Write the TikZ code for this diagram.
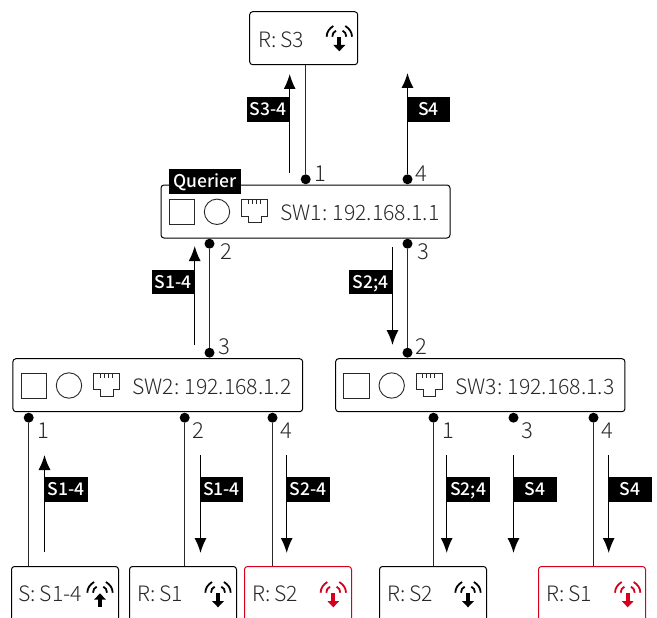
\documentclass[tikz,border=0pt]{standalone}
\usepackage{fontspec}
\setmainfont{Noto Sans CJK JP Light}[BoldFont={Noto Sans CJK JP Medium},WordSpace=0.85]
\usetikzlibrary{arrows.meta}
\definecolor{alarm}{RGB}{214,0,28}
\definecolor{ink}{RGB}{40,40,40}
\tikzset{
  box/.style={draw=black, line width=1pt, rounded corners=3pt, minimum width=#1, minimum height=53pt, inner sep=0pt},
  box/.default=108pt,
  leaf/.style={draw=black, line width=1pt, rounded corners=3pt, anchor=north west, minimum width=107pt, minimum height=70pt, inner sep=0pt},
  dot/.style={circle, fill=black, inner sep=0pt, minimum size=10pt},
  num/.style={font=\fontsize{22}{22}\selectfont, text=ink, inner sep=0pt},
  txt/.style={font=\fontsize{21.2}{21.2}\selectfont, text=ink, inner sep=0pt, anchor=west},
  tag/.style={fill=black, text=white, font=\bfseries\fontsize{17.5}{17.5}\selectfont, text height=14pt, text depth=1.5pt, minimum width=43pt, minimum height=24.5pt, inner sep=0pt},
  wire/.style={draw=ink, line width=1.2pt},
  flow/.style={draw=black, line width=1.2pt, -{Latex[length=15pt,width=12pt]}},
}
\newcommand{\swicons}[2]{
    \draw[ink, line width=0.9pt] (#1,#2+0.3) rectangle (#1+25.3,#2+25.3);
    \draw[ink, line width=0.9pt] (#1+48,#2+12.8) circle (12.7);
    \draw[ink, line width=0.9pt] (#1+72.7,#2+0.7) -- (#1+98.7,#2+0.7) -- (#1+98.7,#2+17) -- (#1+92,#2+17) -- (#1+92,#2+23.7) -- (#1+79.5,#2+23.7) -- (#1+79.5,#2+17) -- (#1+72.7,#2+17) -- cycle;
    \draw[ink, line width=0.9pt] (#1+79,#2+1) -- (#1+79,#2+5) (#1+83,#2+1) -- (#1+83,#2+5) (#1+87,#2+1) -- (#1+87,#2+5) (#1+91,#2+1) -- (#1+91,#2+5);
}
\newcommand{\wifiarcs}[3]{
    \draw[#3, line width=1.8pt] (#1-12.7,#2) .. controls (#1-12.5,#2-5) and (#1-10,#2-8) .. (#1-6,#2-10.7);
    \draw[#3, line width=1.8pt] (#1-7,#2) .. controls (#1-7,#2-3) and (#1-5.5,#2-5) .. (#1-3.3,#2-6);
    \draw[#3, line width=1.8pt] (#1+12.7,#2) .. controls (#1+12.5,#2-5) and (#1+10,#2-8) .. (#1+6,#2-10.7);
    \draw[#3, line width=1.8pt] (#1+7,#2) .. controls (#1+7,#2-3) and (#1+5.5,#2-5) .. (#1+3.3,#2-6);
}
\newcommand{\wifidown}[3]{
    \wifiarcs{#1}{#2}{#3}
    \fill[#3] (#1-2,#2+0.6) rectangle (#1+2,#2+9);
    \fill[#3] (#1-6,#2+8.3) -- (#1+6,#2+8.3) -- (#1,#2+14.6) -- cycle;
}
\newcommand{\wifiup}[3]{
    \wifiarcs{#1}{#2}{#3}
    \fill[#3] (#1-2,#2+6) rectangle (#1+2,#2+14);
    \fill[#3] (#1-6,#2+7) -- (#1+6,#2+7) -- (#1,#2+0.6) -- cycle;
}
\begin{document}
\begin{tikzpicture}[x=1pt, y=-1pt]
    \useasboundingbox (0,0) rectangle (657,618);
    \clip (0,0) rectangle (657,618);
    \node[box=108pt] (rs3) at (303.7,38.2) {};
    \node[box=289pt] (sw1) at (305.5,211.5) {};
    \node[box=289.7pt] (sw2) at (157.8,385.2) {};
    \node[box=289.3pt] (sw3) at (480.3,385.2) {};
    \node[leaf] (src) at (11,566) {};
    \node[leaf] (rs1) at (129,566) {};
    \node[leaf, draw=alarm] (rs2) at (244,566) {};
    \node[leaf] (rs2b) at (379,566) {};
    \node[leaf, draw=alarm] (rs1b) at (538,566) {};
    \node[txt] (rs3txt) at (258,40) {R: S3};
    \node[txt] (sw1txt) at (280,213) {SW1: 192.168.1.1};
    \node[txt] (sw2txt) at (132,387) {SW2: 192.168.1.2};
    \node[txt] (sw3txt) at (455,387) {SW3: 192.168.1.3};
    \node[txt] (srctxt) at (18,594) {S: S1-4};
    \node[txt] (rs1txt) at (137,594) {R: S1};
    \node[txt] (rs2txt) at (252,594) {R: S2};
    \node[txt] (rs2btxt) at (387,594) {R: S2};
    \node[txt] (rs1btxt) at (546,594) {R: S1};
    \swicons{169}{199}
    \swicons{21}{372.7}
    \swicons{343.7}{372.7}
    \wifidown{339.3}{36.7}{black}
    \wifiup{100}{592.7}{black}
    \wifidown{218}{592.7}{black}
    \wifidown{333.3}{592.7}{alarm}
    \wifidown{468}{592.7}{black}
    \wifidown{627.7}{592.7}{alarm}
    \node[dot] (sw1p1) at (305.7,179.3) {};
    \node[dot] (sw1p4) at (407.5,179.3) {};
    \node[dot] (sw1p2) at (209.5,243.7) {};
    \node[dot] (sw1p3) at (407.5,243.7) {};
    \node[dot] (sw2p3) at (209.5,352.7) {};
    \node[dot] (sw2p1) at (28.7,417.7) {};
    \node[dot] (sw2p2) at (184.7,417.7) {};
    \node[dot] (sw2p4) at (272.5,417.7) {};
    \node[dot] (sw3p2) at (407.5,352.7) {};
    \node[dot] (sw3p1) at (433.5,417.7) {};
    \node[dot] (sw3p3) at (513.5,417.7) {};
    \node[dot] (sw3p4) at (593.5,417.7) {};
    \node[num] (n1) at (320.5,174) {1};
    \node[num] (n2) at (421.5,174) {4};
    \node[num] (n3) at (226.5,251.5) {2};
    \node[num] (n4) at (423.5,251.5) {3};
    \node[num] (n5) at (224,346.5) {3};
    \node[num] (n6) at (421,346.5) {2};
    \node[num] (n7) at (43,430.5) {1};
    \node[num] (n8) at (198.5,430.5) {2};
    \node[num] (n9) at (286,430.5) {4};
    \node[num] (n10) at (448,430.5) {1};
    \node[num] (n11) at (527.5,430.5) {3};
    \node[num] (n12) at (607.5,430.5) {4};
    \draw[wire] (sw1p1) -- (sw1p1 |- rs3.south);
    \draw[wire] (sw1p2) -- (sw2p3);
    \draw[wire] (sw1p3) -- (sw3p2);
    \draw[wire] (sw2p1) -- (sw2p1 |- src.north);
    \draw[wire] (sw2p2) -- (sw2p2 |- rs1.north);
    \draw[wire] (sw2p4) -- (sw2p4 |- rs2.north);
    \draw[wire] (sw3p1) -- (sw3p1 |- rs2b.north);
    \draw[wire] (sw3p4) -- (sw3p4 |- rs1b.north);
    \coordinate (a1) at (289.7,173);
    \coordinate (a2) at (289.7,74);
    \coordinate (a3) at (407.5,73);
    \coordinate (a4) at (194.7,345);
    \coordinate (a5) at (194.7,246);
    \coordinate (a6) at (392.5,247);
    \coordinate (a7) at (392.5,345);
    \coordinate (a8) at (44.5,552);
    \coordinate (a9) at (44.5,455);
    \coordinate (a10) at (200.5,455);
    \coordinate (a11) at (200.5,553);
    \coordinate (a12) at (286.7,455);
    \coordinate (a13) at (286.7,553);
    \coordinate (a14) at (446.7,455);
    \coordinate (a15) at (446.7,553);
    \coordinate (a16) at (513.5,455);
    \coordinate (a17) at (513.5,553);
    \coordinate (a18) at (608.7,455);
    \coordinate (a19) at (608.7,553);
    \draw[flow] (a1) -- (a2);
    \draw[flow] (sw1p4) -- (a3);
    \draw[flow] (a4) -- (a5);
    \draw[flow] (a6) -- (a7);
    \draw[flow] (a8) -- (a9);
    \draw[flow] (a10) -- (a11);
    \draw[flow] (a12) -- (a13);
    \draw[flow] (a14) -- (a15);
    \draw[flow] (a16) -- (a17);
    \draw[flow] (a18) -- (a19);
    \node[tag, minimum width=72pt] (q) at (205,181.3) {Querier};
    \node[tag] (t1) at (268,109.3) {S3-4};
    \node[tag] (t2) at (428.5,109.3) {S4};
    \node[tag] (t3) at (173.2,282) {S1-4};
    \node[tag] (t4) at (370.5,282) {S2;4};
    \node[tag] (t5) at (66,489.3) {S1-4};
    \node[tag] (t6) at (221.5,489.3) {S1-4};
    \node[tag] (t7) at (308.2,489.3) {S2-4};
    \node[tag] (t8) at (468.2,489.3) {S2;4};
    \node[tag] (t9) at (535.2,489.3) {S4};
    \node[tag] (t10) at (630.2,489.3) {S4};
\end{tikzpicture}
\end{document}
